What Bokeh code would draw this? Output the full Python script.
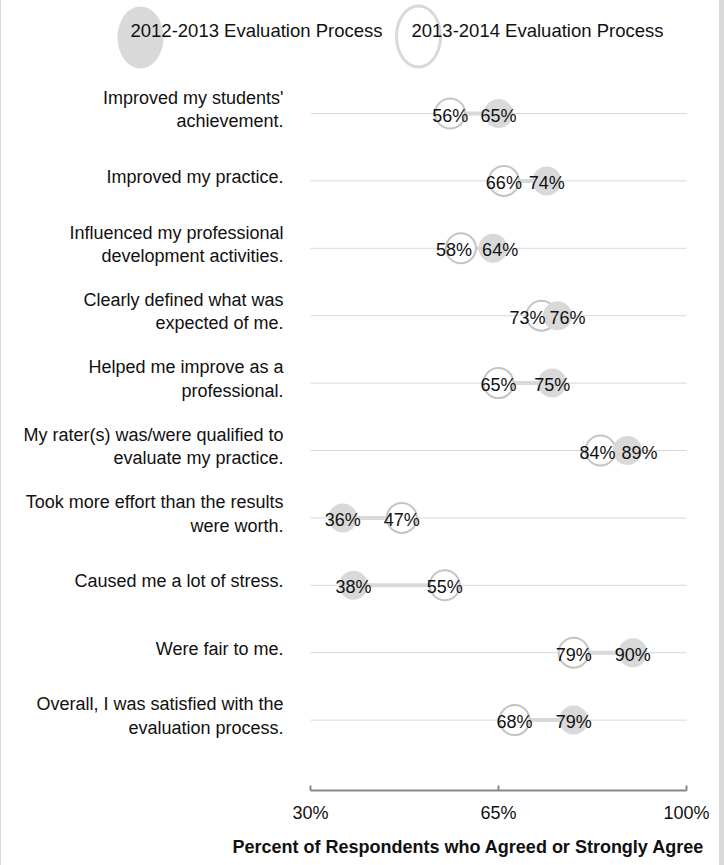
from bokeh.plotting import figure
from bokeh.models import FixedTicker, Title, Range1d, ColumnDataSource
from bokeh.core.properties import value
from bokeh.embed import file_html
from bokeh.resources import INLINE

# ---------------- data ----------------
categories = [
    "Improved my students'\nachievement.",
    "Improved my practice.",
    "Influenced my professional\ndevelopment activities.",
    "Clearly defined what was\nexpected of me.",
    "Helped me improve as a\nprofessional.",
    "My rater(s) was/were qualified to\nevaluate my practice.",
    "Took more effort than the results\nwere worth.",
    "Caused me a lot of stress.",
    "Were fair to me.",
    "Overall, I was satisfied with the\nevaluation process.",
]
pct_2012_2013 = [65, 74, 64, 76, 75, 89, 36, 38, 90, 79]
pct_2013_2014 = [56, 66, 58, 73, 65, 84, 47, 55, 79, 68]
series_names = ["2012-2013 Evaluation Process", "2013-2014 Evaluation Process"]
x_ticks = [30, 65, 100]
x_tick_labels = ["30%", "65%", "100%"]
axis_title = "Percent of Respondents who Agreed or Strongly Agree"

# label nudges (screen px) for close pairs, as in the reference
nudge_2012_2013 = [0, 0, 7, 10, 0, 12, 0, 0, 0, 0]
nudge_2013_2014 = [0, 0, -7, -14, 0, -3, 0, 0, 0, 0]

# ---------------- layout constants (pixels) ----------------
FONT = "Liberation Sans"
X_MIN, X_MAX = x_ticks[0], x_ticks[-1]
PX_X = 376.0 / (X_MAX - X_MIN)      # px per percent
ROW_PX = 67.4                       # px per row
N = len(categories)
FRAME_W, FRAME_H = 718, 790
AX_LEFT_PX = 309                    # frame px of X_MIN
ROW1_PX = 113                       # frame px of first row

x_start = X_MIN - AX_LEFT_PX / PX_X
x_end = x_start + FRAME_W / PX_X
y_top = (N - 1) + ROW1_PX / ROW_PX
y_bottom = y_top - FRAME_H / ROW_PX

def dx(px):
    return x_start + px / PX_X

def dy(py):
    return y_top - py / ROW_PX

ys = [N - 1 - i for i in range(N)]

src = ColumnDataSource(dict(
    y=ys,
    cat=categories,
    a=pct_2012_2013,
    b=pct_2013_2014,
    la=[f"{v}%" for v in pct_2012_2013],
    lb=[f"{v}%" for v in pct_2013_2014],
    na=nudge_2012_2013,
    nb=nudge_2013_2014,
    x0=[X_MIN] * N,
    x1=[X_MAX] * N,
))

p = figure(width=FRAME_W, height=865, output_backend="svg", toolbar_location=None,
           x_range=Range1d(x_start, x_end), y_range=Range1d(y_bottom, y_top),
           y_axis_location=None, min_border_left=0, min_border_right=0,
           min_border_top=0, min_border_bottom=0)
p.frame_width = FRAME_W
p.frame_height = FRAME_H
p.styles = {"border-left": "1px solid #d9d9d9", "border-right": "5px solid #d9d9d9"}
p.outline_line_color = None
p.xgrid.visible = False
p.ygrid.visible = False
p.background_fill_color = "white"
p.border_fill_color = "white"

# grid lines per row
p.segment(x0="x0", x1="x1", y0="y", y1="y", source=src, line_color="#d9d9d9", line_width=1)
# connectors
p.segment(x0="a", x1="b", y0="y", y1="y", source=src, line_color="#d9d9d9", line_width=4)
# 2013-2014 open circles
p.scatter(x="b", y="y", source=src, size=30, marker="circle", fill_color="white",
          line_color="#c4c4c4", line_width=2)
# 2012-2013 filled circles
p.scatter(x="a", y="y", source=src, size=29, marker="circle", fill_color="#d9d9d9",
          line_color=None)
# value labels
for col, xcol, ncol in (("lb", "b", "nb"), ("la", "a", "na")):
    p.text(x=xcol, y="y", text=col, source=src, x_offset=ncol, y_offset=2,
           text_align="center", text_baseline="middle",
           text_font=value(FONT), text_font_size="18px", text_color="#111111")

# category labels
p.text(x="x0", y="y", text="cat", source=src, x_offset=-27, y_offset=-4,
       text_align="right", text_baseline="middle", text_font=value(FONT),
       text_font_size="18px", text_color="#111111", text_line_height=1.17)

# legend
p.ellipse(x=[dx(139)], y=[dy(37)], width=46, height=62, width_units="screen",
          height_units="screen", fill_color="#d9d9d9", line_color=None)
p.ellipse(x=[dx(417)], y=[dy(36)], width=44, height=61, width_units="screen",
          height_units="screen", fill_color=None, line_color="#d9d9d9", line_width=3)
p.text(x=[dx(129), dx(410)], y=[dy(30), dy(30)], text=series_names,
       text_align="left", text_baseline="middle", text_font=value(FONT),
       text_font_size="18.5px", text_color="#111111")

# x axis
ax = p.xaxis[0]
ax.bounds = (X_MIN, X_MAX)
ax.ticker = FixedTicker(ticks=x_ticks)
ax.major_label_overrides = {t: l for t, l in zip(x_ticks, x_tick_labels)}
ax.axis_line_color = "#878787"
ax.axis_line_width = 2
ax.major_tick_line_color = "#878787"
ax.major_tick_line_width = 2
ax.major_tick_in = 5
ax.major_tick_out = 0
ax.minor_tick_line_color = None
ax.major_label_standoff = 12
ax.major_label_text_font = FONT
ax.major_label_text_font_size = "18px"
ax.major_label_text_color = "#111111"

t = Title(text=axis_title, align="left", offset=231, text_font=FONT,
          text_font_size="18px", text_font_style="bold", text_color="#111111", standoff=18)
p.add_layout(t, "below")

open("out.html", "w").write(file_html(p, INLINE))
